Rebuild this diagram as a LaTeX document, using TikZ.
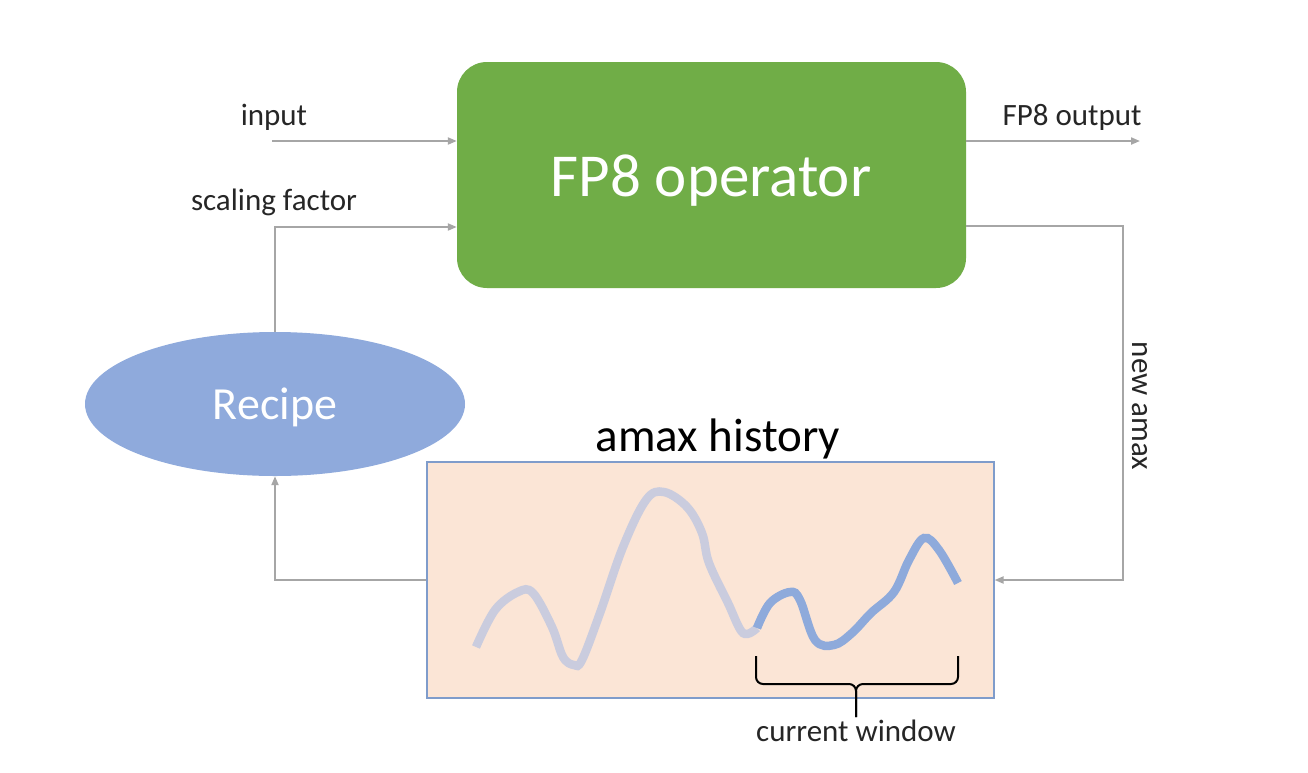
\documentclass[tikz,border=0pt]{standalone}
\usepackage{fontspec}
\setmainfont{Carlito}
\usetikzlibrary{arrows.meta,shapes.geometric,calc}
\definecolor{opgreen}{HTML}{70AD47}
\definecolor{recblue}{HTML}{8FAADC}
\definecolor{histfill}{HTML}{FBE5D6}
\definecolor{histborder}{HTML}{7F9CCB}
\definecolor{conngray}{HTML}{A6A6A6}
\definecolor{oldcurve}{HTML}{CACCDE}
\definecolor{newcurve}{HTML}{8EAADB}
\definecolor{labeltext}{HTML}{262626}
\begin{document}
\begin{tikzpicture}[x=1pt,y=-1pt,
  connector/.style={draw=conngray,line width=2pt,-{Triangle[length=9pt,width=7pt]}},
  smalllbl/.style={font=\fontsize{31}{36}\selectfont,text=labeltext,inner sep=0pt},
  biglbl/.style={font=\fontsize{47}{52}\selectfont,inner sep=0pt},
  oldline/.style={draw=oldcurve,line width=8.5pt},
  newline/.style={draw=newcurve,line width=8.5pt}]
\useasboundingbox[fill=white] (0,0) rectangle (1308,772);

% FP8 operator box
\node[fill=opgreen,rounded corners=30pt,minimum width=509pt,minimum height=226pt,inner sep=0pt] (op) at (711.5,175) {};
\node[font=\fontsize{61}{66}\selectfont,text=white,anchor=base,inner sep=0pt] (optext) at (711,196) {FP8 operator};

% Recipe ellipse
\node[ellipse,fill=recblue,minimum width=380pt,minimum height=144pt,inner sep=0pt] (rec) at (275,404) {};
\node[font=\fontsize{46}{52}\selectfont,inner sep=0pt,text=white,anchor=base] (rectext) at (275,419) {Recipe};

% amax history box
\node[rectangle,fill=histfill,draw=histborder,line width=1.2pt,minimum width=567pt,minimum height=236pt,inner sep=0pt] (hist) at (710.5,580) {};
\node[biglbl,text=black,anchor=base] (histtitle) at (718,451) {amax history};

% labels
\node[smalllbl,anchor=base] (lin) at (274,125) {input};
\node[smalllbl,anchor=base] (lsc) at (274,210) {scaling factor};
\node[smalllbl,anchor=base] (lout) at (1072,125) {FP8 output};
\node[smalllbl,rotate=-90] (lna) at (1140,406) {new amax};
\node[smalllbl,anchor=base] (lcw) at (856,741) {current window};

% connectors
\coordinate (inS) at (272,141);
\draw[connector] (inS) -- (inS -| op.west);
\coordinate (outE) at (1140,141);
\draw[connector] (op.east |- outE) -- (outE);
\coordinate (scT) at ($(op.west)+(0,52)$);
\draw[connector] (rec.north) |- (scT);
\coordinate (naS) at ($(op.east)+(0,51)$);
\draw[connector] (naS) -- ++(157,0) |- (hist.east);
\draw[connector] (hist.west) -| (rec.south);

% amax curves
\draw[oldline] plot[smooth,tension=0.6] coordinates {
  (476,647) (495,610) (518,592) (533,593) (552,627) (563,657) (574,665)
  (582,660) (600,613) (623,547) (646,500) (664,492) (687,507) (702,533)
  (709,563) (728,603) (743,633) (757,628)};
\draw[newline] plot[smooth,tension=0.6] coordinates {
  (757,628) (770,603) (790,592) (800,600) (815,640) (834,645) (852,633)
  (871,613) (894,592) (909,560) (924,538) (939,550) (958,583)};

% brace
\draw[black,line width=2pt,rounded corners=7pt] (756,656) -- (756,684) -- (856,684) -- (856,717);
\draw[black,line width=2pt,rounded corners=7pt] (958,656) -- (958,684) -- (856,684) -- (856,717);
\end{tikzpicture}
\end{document}
